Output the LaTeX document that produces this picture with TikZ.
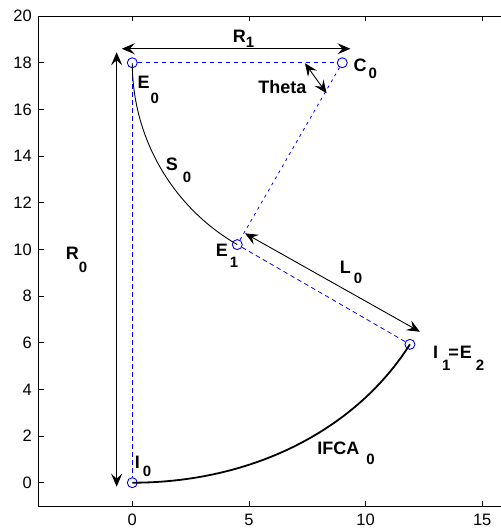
\documentclass[tikz,border=0pt]{standalone}
\usepackage{fontspec}
\setmainfont{Liberation Sans}
\usetikzlibrary{arrows.meta}
\tikzset{
    ptmark/.style = {circle, draw=blue, line width=0.9pt, inner sep=0pt, minimum size=10pt},
    guide/.style = {blue, line width=0.8pt, dash pattern=on 4.5pt off 3.5pt},
    guidep/.style = {blue, line width=0.8pt, dash pattern=on 3pt off 4pt},
    dimarrow/.style = {{Stealth[length=13pt,width=11pt,inset=5pt]}-{Stealth[length=13pt,width=11pt,inset=5pt]}, line width=0.9pt},
    lbl/.style = {anchor=base west, inner sep=0pt, font=\fontsize{18}{18}\selectfont\bfseries},
    ticklbl/.style = {inner sep=0pt, font=\fontsize{16.5}{16.5}\selectfont},
}
\newcommand{\lo}[3]{\kern#1\raisebox{-#2}{\fontsize{15}{15}\selectfont#3}}

\begin{document}
\begin{tikzpicture}[x=23.33pt,y=23.33pt]
\useasboundingbox (-5.67,-2.07) rectangle (15.80,20.69);
% axes
\draw[line width=1pt] (15.9,20) -- (-4,20) -- (-4,-1) -- (15.9,-1);
\foreach \y in {0,2,...,20} {
  \draw[line width=0.8pt] (-4,\y) -- ++(0.21,0);
  \node[ticklbl, anchor=east] at (-4.3,\y) {\y};
}
\foreach \x in {0,5,10,15} {
  \draw[line width=0.8pt] (\x,-1) -- ++(0,0.21);
  \draw[line width=0.8pt] (\x,20) -- ++(0,-0.21);
  \node[ticklbl, anchor=north] at (\x,-1.35) {\x};
}
% points
\node[ptmark] (E0) at (0,18) {};
\node[ptmark] (C0) at (9,18) {};
\node[ptmark] (E1) at (4.5,10.206) {};
\node[ptmark] (I1) at (11.9,5.93) {};
\node[ptmark] (I0) at (0,0) {};
% construction lines
\draw[guide] (E0) -- (C0);
\draw[guide] (E0) -- (I0);
\draw[guidep] (C0) -- (E1);
\draw[guide] (E1) -- (I1);
% path
\draw[line width=0.9pt] (E0.center) arc[start angle=180, end angle=240, radius=9];
\draw[line width=1.8pt] (I0.center) .. controls (5.2,0) and (9.6,2.3) .. (I1.center);
% dimension arrows
\coordinate (r1a) at (-0.45,18.6);
\coordinate (r1b) at (9.35,18.6);
\coordinate (r0a) at (-0.67,18.45);
\coordinate (r0b) at (-0.67,-0.17);
\coordinate (l0a) at (4.83,10.69);
\coordinate (l0b) at (12.33,6.47);
\coordinate (tha) at (7.40,17.98);
\coordinate (thb) at (8.33,16.69);
\draw[dimarrow] (r1a) -- (r1b);
\draw[dimarrow] (r0a) -- (r0b);
\draw[dimarrow] (l0a) -- (l0b);
\draw[dimarrow] (tha) -- (thb);
% labels
\node[lbl] at (0.22,16.91) {E\lo{1pt}{15pt}{0}};
\node[lbl] at (1.43,13.40) {S\lo{5pt}{12pt}{0}};
\node[lbl] at (3.57,9.70) {E\lo{2pt}{11pt}{1}};
\node[lbl] at (9.48,17.63) {C\lo{2pt}{7pt}{0}};
\node[lbl] at (-2.86,9.57) {R\lo{0pt}{13pt}{0}};
\node[lbl] at (4.30,18.85) {R\lo{0pt}{5pt}{1}};
\node[lbl] at (8.89,8.97) {L\lo{3pt}{10pt}{0}};
\node[lbl] at (5.40,16.69) {Theta};
\node[lbl] at (0.10,0.62) {I\lo{3pt}{8pt}{0}};
\node[lbl] at (12.89,5.33) {I\lo{4pt}{12pt}{1}\kern-2.3pt=\kern1.2pt E\lo{4pt}{12pt}{2}};
\node[lbl] at (7.93,1.19) {IFCA\lo{7pt}{10pt}{0}};
\end{tikzpicture}
\end{document}
